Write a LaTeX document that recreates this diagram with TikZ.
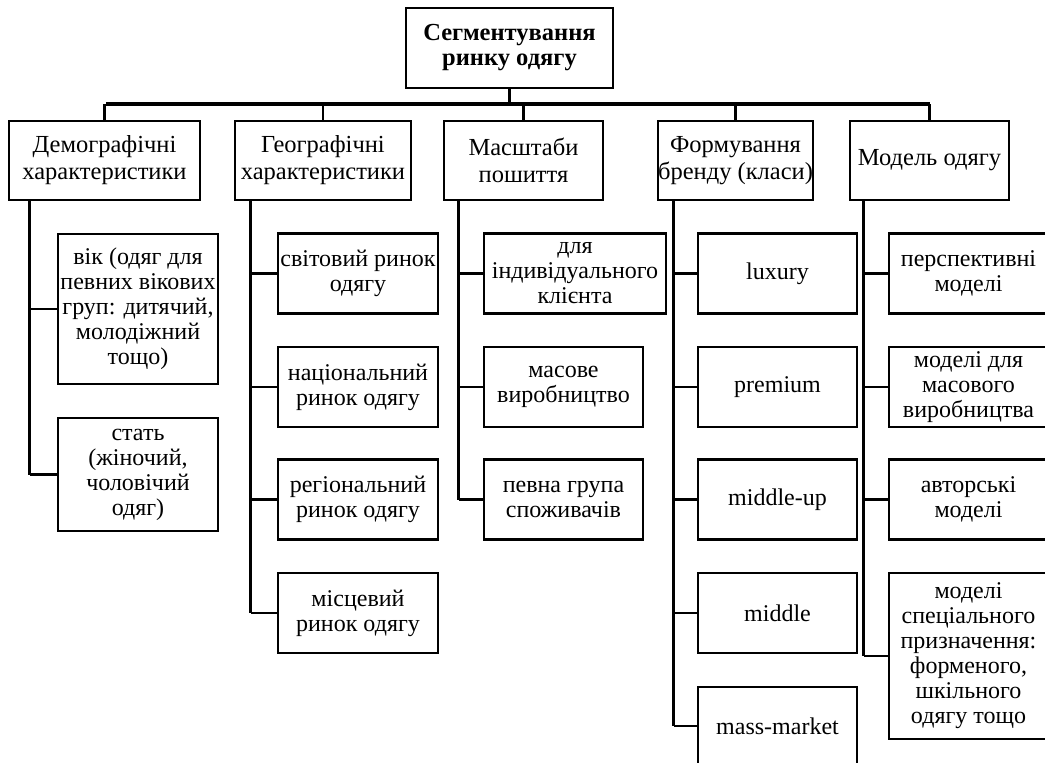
\documentclass[tikz,border=0pt]{standalone}
\usepackage{fontspec}
\setmainfont{Liberation Serif}
\begin{document}
\begin{tikzpicture}[x=1pt,y=-1pt,
  box/.style={draw,line width=2.2pt,rectangle,inner sep=0pt,align=center,
    font=\fontsize{24}{25}\selectfont},
  lvtwo/.style={box,minimum height=79pt,font=\fontsize{24.5}{27}\selectfont},
  leaf/.style={box,minimum width=160pt,minimum height=80pt},
  bus/.style={line width=3.2pt},
  trunk/.style={line width=3pt},
  branch/.style={line width=2.2pt}]
\useasboundingbox (0,0) rectangle (1045,763);
\clip (0,0) rectangle (1045,763);
% root
\node[box,font=\fontsize{24.5}{25}\selectfont\bfseries,minimum width=207pt,minimum height=80pt] (root) at (509.5,48) {Сегментування\\ринку одягу};
% level 2
\node[lvtwo,minimum width=191pt] (demo) at (104.5,160.5) {Демографічні\\характеристики};
\node[lvtwo,minimum width=176pt] (geo) at (323,160.5) {Географічні\\характеристики};
\node[lvtwo,minimum width=159pt] (mas) at (523.5,160.5) {Масштаби\\пошиття};
\node[lvtwo,minimum width=155pt] (form) at (735.5,160.5) {Формування\\бренду (класи)};
\node[lvtwo,minimum width=159pt] (model) at (929.5,160.5) {Модель одягу};
% bus
\coordinate (busy) at (0,104);
\draw[bus] (root.south) -- (root.south |- busy);
\draw[bus] ([xshift=1.5pt]demo.north |- busy) -- (model.north |- busy);
\foreach \n in {demo,geo,mas,form,model}{
  \draw[branch] (\n.north |- busy) -- (\n.north);
}
% demo children
\node[leaf,minimum height=150pt] (d1) at (138,309) {вік (одяг для\\певних вікових\\груп: дитячий,\\молодіжний\\тощо)};
\node[leaf,minimum height=113pt] (d2) at (138,474.5) {стать\\(жіночий,\\чоловічий\\одяг)};
% geo children
\node[leaf] (g1) at (358,273.5) {світовий ринок\\одягу};
\node[leaf] (g2) at (358,387) {національний\\ринок одягу};
\node[leaf] (g3) at (358,499.5) {регіональний\\ринок одягу};
\node[leaf] (g4) at (358,613) {місцевий\\ринок одягу};
% mas children
\node[leaf,minimum width=182pt] (m1) at (575,273.5) {для\\індивідуального\\клієнта};
\node[leaf,minimum width=159pt] (m2) at (563.5,387) {масове\\виробництво};
\node[leaf,minimum width=159pt] (m3) at (563.5,499.5) {певна група\\споживачів};
% form children
\node[leaf,minimum width=159pt] (f1) at (777.5,273.5) {luxury};
\node[leaf,minimum width=159pt] (f2) at (777.5,387) {premium};
\node[leaf,minimum width=159pt] (f3) at (777.5,499.5) {middle-up};
\node[leaf,minimum width=159pt] (f4) at (777.5,613) {middle};
\node[leaf,minimum width=159pt,minimum height=78pt] (f5) at (777.5,726) {mass-market};
% model children
\node[leaf,minimum width=159pt] (o1) at (968.5,273.5) {перспективні\\моделі};
\node[leaf,minimum width=159pt] (o2) at (968.5,387) {моделі для\\масового\\виробництва};
\node[leaf,minimum width=159pt] (o3) at (968.5,499.5) {авторські\\моделі};
\node[leaf,minimum width=159pt,minimum height=166pt] (o4) at (968.5,656) {моделі\\спеціального\\призначення:\\форменого,\\шкільного\\одягу тощо};
% trunks
\coordinate (td) at ([xshift=22pt]demo.south west);
\coordinate (tg) at ([xshift=17pt]geo.south west);
\coordinate (tm) at ([xshift=16pt]mas.south west);
\coordinate (tf) at ([xshift=17pt]form.south west);
\coordinate (to) at ([xshift=15pt]model.south west);
\draw[trunk] (td) -- (td |- d2.west);
\draw[trunk] (tg) -- (tg |- g4.west);
\draw[trunk] (tm) -- (tm |- m3.west);
\draw[trunk] (tf) -- (tf |- f5.west);
\draw[trunk] (to) -- (to |- o4.west);
\foreach \t/\c in {td/d1,td/d2,tg/g1,tg/g2,tg/g3,tg/g4,tm/m1,tm/m2,tm/m3,tf/f1,tf/f2,tf/f3,tf/f4,tf/f5,to/o1,to/o2,to/o3,to/o4}{
  \draw[branch] (\t |- \c.west) -- (\c.west);
}
\end{tikzpicture}
\end{document}
